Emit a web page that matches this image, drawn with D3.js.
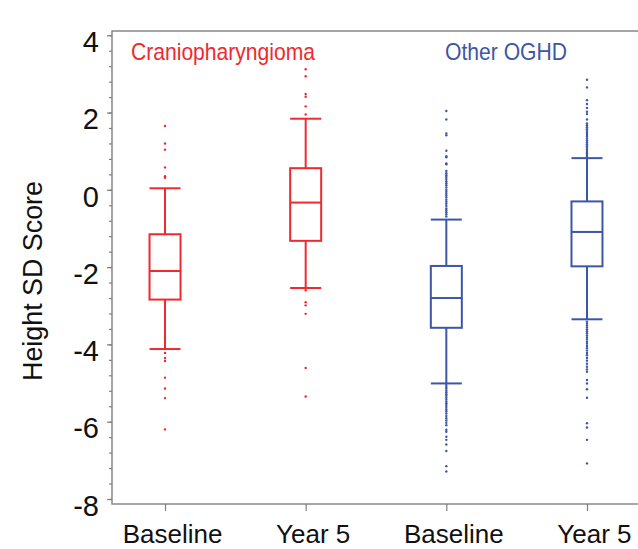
<!DOCTYPE html>
<html>
<head>
<meta charset="utf-8">
<script src="https://cdn.jsdelivr.net/npm/d3@7"></script>
<style>
  html, body { margin: 0; padding: 0; background: #fff; overflow: hidden; }
  svg { display: block; font-family: "Liberation Sans", Arial, sans-serif; }
</style>
</head>
<body>
<svg id="chart"></svg>
<script>
// box summaries, one entry per box (left to right)
const groups = ["Craniopharyngioma", "Craniopharyngioma", "Other OGHD", "Other OGHD"];
const timepoints = ["Baseline", "Year 5", "Baseline", "Year 5"];
const whiskerHigh = [0.04, 1.84, -0.77, 0.82];
const q3 = [-1.15, 0.56, -1.97, -0.30];
const median = [-2.10, -0.33, -2.80, -1.09];
const q1 = [-2.84, -1.32, -3.57, -1.98];
const whiskerLow = [-4.12, -2.54, -5.01, -3.35];

// outlying points
const outCranioBase = [1.65, 1.20, 1.04, 0.58, 0.35, 0.31,
  -4.22, -4.35, -4.43, -4.86, -5.14, -5.39, -6.20];
const outCranioY5 = [3.12, 2.94, 2.48, 2.41, 2.16, 1.95,
  -2.60, -2.91, -2.99, -3.21, -4.61, -5.35];
const outOtherBase = [2.04, 1.82, 1.46, 1.41, 1.01, 0.87, 0.84, 0.68, 0.66,
  0.49, 0.43, 0.38, 0.33, 0.28, 0.22, 0.17, 0.12, 0.06, 0.00, -0.05, -0.10,
  -0.15, -0.20, -0.26, -0.31, -0.36, -0.42, -0.48, -0.53, -0.58, -0.63, -0.69,
  -5.05, -5.10, -5.14, -5.19, -5.24, -5.29, -5.33, -5.38, -5.43, -5.48, -5.52,
  -5.57, -5.62, -5.68, -5.73, -5.79, -5.85, -5.91, -5.97, -6.03, -6.09,
  -6.21, -6.26, -6.39, -6.47, -6.59, -6.76, -7.15, -7.29];
const outOtherY5 = [2.85, 2.65, 2.32, 2.22, 2.12, 2.02, 1.96, 1.82, 1.72,
  1.67, 1.62, 1.57, 1.52, 1.47, 1.42, 1.38, 1.33, 1.28, 1.23, 1.18, 1.13,
  1.08, 1.03, 0.98, 0.94, 0.90, 0.86,
  -3.41, -3.46, -3.51, -3.56, -3.61, -3.66, -3.71, -3.77, -3.82, -3.87, -3.93,
  -3.98, -4.04, -4.10, -4.16, -4.22, -4.28, -4.35, -4.42, -4.50, -4.58, -4.65,
  -4.71, -4.92, -5.01, -5.16, -5.38, -6.04, -6.15, -6.47, -7.08];
const outliers = [outCranioBase, outCranioY5, outOtherBase, outOtherY5];

const yTicks = [-8, -6, -4, -2, 0, 2, 4];
const groupColor = { "Craniopharyngioma": "#ee2a2e", "Other OGHD": "#3d56a6" };

const boxes = timepoints.map((t, i) => ({
  key: i, group: groups[i], label: t,
  hi: whiskerHigh[i], q3: q3[i], med: median[i], q1: q1[i], lo: whiskerLow[i],
  out: outliers[i]
}));

const W = 638, H = 549;
const margin = { top: 31, left: 112 };
const width = 528, height = 473;

const svg = d3.select("#chart").attr("width", W).attr("height", H);
const chart = svg.append("g").attr("transform", `translate(${margin.left},${margin.top})`);

const x = d3.scalePoint().domain(boxes.map(d => d.key)).range([0, width]).padding(0.377);
const y = d3.scaleLinear().domain([-8.13, 4.11]).range([height, 0]);

// frame
chart.append("rect")
  .attr("width", width).attr("height", height)
  .attr("fill", "none").attr("stroke", "#7f7f7f").attr("stroke-width", 1.4);

// y axis: minor then major ticks
const yMinor = d3.axisLeft(y).tickValues(d3.range(-8, 4.01, 0.4)).tickSize(3).tickFormat("");
chart.append("g").call(yMinor)
  .call(g => g.select(".domain").remove())
  .selectAll("line").attr("stroke", "#7f7f7f").attr("stroke-width", 1.2);

const yAxis = d3.axisLeft(y).tickValues(yTicks).tickSize(5).tickPadding(8)
  .tickFormat(d => d);
chart.append("g").call(yAxis)
  .call(g => g.select(".domain").remove())
  .call(g => g.selectAll("line").attr("stroke", "#7f7f7f").attr("stroke-width", 1.2))
  .call(g => g.selectAll("text")
    .attr("font-size", 29).attr("fill", "#111").attr("dy", "0.56em")
    .attr("font-family", "'Liberation Sans', Arial, sans-serif"));

// x axis
const xAxis = d3.axisBottom(x).tickSize(7).tickPadding(14).tickFormat(k => boxes[k].label);
chart.append("g").attr("transform", `translate(0,${height})`).call(xAxis)
  .call(g => g.select(".domain").remove())
  .call(g => g.selectAll("line").attr("stroke", "#7f7f7f").attr("stroke-width", 1.2))
  .call(g => g.selectAll("text")
    .attr("font-size", 26).attr("fill", "#111").attr("dx", 7).attr("dy", "0.71em")
    .attr("font-family", "'Liberation Sans', Arial, sans-serif"));

// y title
svg.append("text")
  .attr("transform", "translate(42,281) rotate(-90)")
  .attr("text-anchor", "middle")
  .attr("font-size", 27).attr("fill", "#111")
  .attr("textLength", 200).attr("lengthAdjust", "spacingAndGlyphs")
  .text("Height SD Score");

// boxes
const bw = 31;
const bx = chart.selectAll(".box").data(boxes).join("g")
  .attr("class", "box")
  .attr("transform", d => `translate(${x(d.key)},0)`)
  .attr("stroke", d => groupColor[d.group])
  .attr("fill", "none")
  .attr("stroke-width", 2);

bx.append("line").attr("y1", d => y(d.hi)).attr("y2", d => y(d.q3));
bx.append("line").attr("y1", d => y(d.q1)).attr("y2", d => y(d.lo));
bx.append("line").attr("x1", -bw / 2).attr("x2", bw / 2).attr("y1", d => y(d.hi)).attr("y2", d => y(d.hi));
bx.append("line").attr("x1", -bw / 2).attr("x2", bw / 2).attr("y1", d => y(d.lo)).attr("y2", d => y(d.lo));
bx.append("rect").attr("x", -bw / 2).attr("width", bw)
  .attr("y", d => y(d.q3)).attr("height", d => y(d.q1) - y(d.q3));
bx.append("line").attr("x1", -bw / 2).attr("x2", bw / 2).attr("y1", d => y(d.med)).attr("y2", d => y(d.med));

bx.selectAll("circle").data(d => d.out.map(v => ({ v, group: d.group }))).join("circle")
  .attr("cx", 0).attr("cy", d => y(d.v)).attr("r", 1.2)
  .attr("stroke", "none").attr("fill", d => groupColor[d.group]);

// group labels
chart.append("text").attr("x", 131 - margin.left).attr("y", 60 - margin.top)
  .attr("font-size", 24).attr("fill", groupColor["Craniopharyngioma"])
  .attr("textLength", 184).attr("lengthAdjust", "spacingAndGlyphs")
  .text("Craniopharyngioma");
chart.append("text").attr("x", 445 - margin.left).attr("y", 60 - margin.top)
  .attr("font-size", 24).attr("fill", groupColor["Other OGHD"])
  .attr("textLength", 122).attr("lengthAdjust", "spacingAndGlyphs")
  .text("Other OGHD");
</script>
</body>
</html>
